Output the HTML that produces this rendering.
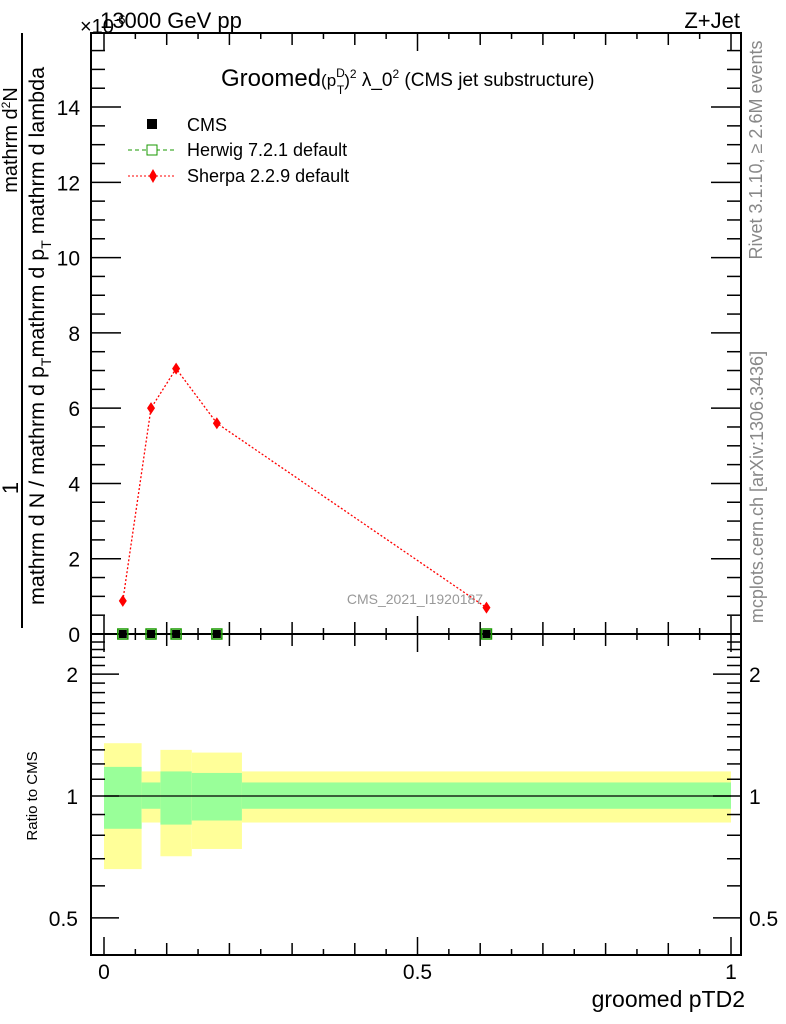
<!DOCTYPE html>
<html><head><meta charset="utf-8"><style>
html,body{margin:0;padding:0;background:#fff;}
svg{display:block;font-family:"Liberation Sans",sans-serif;}
</style></head><body>
<svg id="chart" width="786" height="1024" viewBox="0 0 786 1024" xmlns="http://www.w3.org/2000/svg">
<g id="bands"></g>
<g id="axes"></g>
<g id="marks"></g>
<text x="100" y="28" font-size="22">13000 GeV pp</text>
<text x="80" y="33" font-size="20">×10<tspan dy="-9" font-size="13">-6</tspan></text>
<text x="740" y="28" font-size="22" text-anchor="end">Z+Jet</text>
<text x="221" y="86" font-size="24">Groomed<tspan font-size="17">(p</tspan><tspan font-size="12" dy="-9">D</tspan><tspan font-size="12" dx="-8" dy="17">T</tspan><tspan font-size="17" dy="-8">)</tspan><tspan font-size="12" dy="-8">2</tspan><tspan font-size="19" dy="8"> λ_0</tspan><tspan font-size="12" dy="-8">2</tspan><tspan font-size="19" dy="8"> (CMS jet substructure)</tspan></text>
<g>
<rect x="147" y="119" width="10" height="10" fill="#000"/>
<text x="187" y="131" font-size="18">CMS</text>
<line x1="128" y1="150" x2="175" y2="150" stroke="#1a9a00" stroke-dasharray="4,3"/>
<rect x="147" y="145" width="10" height="10" fill="#fff" stroke="#1a9a00"/>
<text x="187" y="156" font-size="18">Herwig 7.2.1 default</text>
<line x1="128" y1="176" x2="175" y2="176" stroke="#f00" stroke-dasharray="2,2"/>
<path d="M153,169 L157,176 L153,183 L149,176Z" fill="#f00"/>
<text x="187" y="182" font-size="18">Sherpa 2.2.9 default</text>
</g>
<text x="415" y="604" font-size="14" fill="#999" text-anchor="middle">CMS_2021_I1920187</text>
<text transform="translate(762,150) rotate(-90)" font-size="18" fill="#888" text-anchor="middle">Rivet 3.1.10, ≥ 2.6M events</text>
<text transform="translate(763,487) rotate(-90)" font-size="18" fill="#888" text-anchor="middle">mcplots.cern.ch [arXiv:1306.3436]</text>
<g>
<line x1="22" y1="33" x2="22" y2="628" stroke="#000" stroke-width="2"/>
<text transform="translate(18,488) rotate(-90)" font-size="22" text-anchor="middle">1</text>
<text transform="translate(17,140) rotate(-90)" font-size="20" text-anchor="middle">mathrm d<tspan font-size="12" dy="-7">2</tspan><tspan dy="7">N</tspan></text>
<text transform="translate(44,336) rotate(-90)" font-size="21.5" text-anchor="middle">mathrm d N / mathrm d p<tspan font-size="14" dy="7">T</tspan><tspan dy="-7">mathrm d p</tspan><tspan font-size="14" dy="7">T</tspan><tspan dy="-7"> mathrm d lambda</tspan></text>
</g>
<text transform="translate(37,796) rotate(-90)" font-size="15" text-anchor="middle">Ratio to CMS</text>
<text x="745" y="1007" font-size="23" text-anchor="end">groomed pTD2</text>
</svg>
<script>
const binEdges=[0,0.06,0.09,0.14,0.22,1.0];
const binCenters=[0.03,0.075,0.115,0.18,0.61];
const cmsValues=[0.0,0.0,0.0,0.0,0.0];
const herwigValues=[0.0,0.0,0.0,0.0,0.0];
const sherpaValues=[0.88,6.0,7.05,5.6,0.7];
const bandYellowHi=[1.35,1.15,1.30,1.28,1.15];
const bandYellowLo=[0.66,0.86,0.71,0.74,0.86];
const bandGreenHi=[1.18,1.08,1.15,1.14,1.08];
const bandGreenLo=[0.83,0.93,0.85,0.87,0.93];
const yTickLabels=[0,2,4,6,8,10,12,14];
const xTickLabels=[0,0.5,1];
const ratioTickLabels=[0.5,1,2];

const NS="http://www.w3.org/2000/svg";
const L=91,R=741,T=33,B=634,RB=955;
const X=v=>104+627*v;
const Y=v=>634-37.64*v;
const RY=r=>796-405*Math.log10(r);
function mk(tag,attrs,parent){const e=document.createElementNS(NS,tag);for(const k in attrs)e.setAttribute(k,attrs[k]);parent.appendChild(e);return e;}
const axes=document.getElementById('axes'),marks=document.getElementById('marks'),bands=document.getElementById('bands');

for(let i=0;i<binCenters.length;i++){
  const x1=X(binEdges[i]),x2=X(binEdges[i+1]);
  const y=mk('rect',{x:x1,y:RY(bandYellowHi[i]),width:x2-x1,height:RY(bandYellowLo[i])-RY(bandYellowHi[i]),fill:'#ffff99'},bands);
  
  
  const g=mk('rect',{x:x1,y:RY(bandGreenHi[i]),width:x2-x1,height:RY(bandGreenLo[i])-RY(bandGreenHi[i]),fill:'#99ff99'},bands);
  
  
}
const one=mk('line',{x1:X(0),x2:X(1),y1:RY(1),y2:RY(1),stroke:'#000','stroke-width':1.2},bands);



const f1=mk('rect',{x:L,y:T,width:R-L,height:B-T,fill:'none',stroke:'#000','stroke-width':2},axes);


const f2=mk('rect',{x:L,y:B,width:R-L,height:RB-B,fill:'none',stroke:'#000','stroke-width':2},axes);



for(let k=0;k<=20;k++){
  const v=k*0.05,x=X(v),len=(k%2===0)?(k%10===0?18:12):6;
  mk('line',{x1:x,x2:x,y1:RB,y2:RB-len,stroke:'#000','stroke-width':1.5},axes);
  mk('line',{x1:x,x2:x,y1:B,y2:B-len,stroke:'#000','stroke-width':1.5},axes);
  mk('line',{x1:x,x2:x,y1:T,y2:T+len,stroke:'#000','stroke-width':1.5},axes);
  mk('line',{x1:x,x2:x,y1:B,y2:B+len,stroke:'#000','stroke-width':1.5},axes);
}
xTickLabels.forEach(v=>{const t=mk('text',{x:X(v),y:979,'font-size':21,'text-anchor':'middle'},axes);t.textContent=String(v);

});

for(let k=0;k<=31;k++){
  const v=k*0.5,y=Y(v);if(y<T)continue;const len=(k%4===0)?30:14;
  mk('line',{x1:L,x2:L+len,y1:y,y2:y,stroke:'#000','stroke-width':1.5},axes);
  mk('line',{x1:R,x2:R-len,y1:y,y2:y,stroke:'#000','stroke-width':1.5},axes);
}
yTickLabels.forEach(v=>{const t=mk('text',{x:80,y:Y(v)+8,'font-size':21,'text-anchor':'end'},axes);t.textContent=String(v);

});

const minor=[0.5,0.6,0.7,0.8,0.9,1,1.1,1.2,1.3,1.4,1.5,1.6,1.7,1.8,1.9,2,2.1,2.2,2.3,2.4];
minor.forEach(v=>{const y=RY(v);const len=ratioTickLabels.includes(v)?28:14;
  mk('line',{x1:L,x2:L+len,y1:y,y2:y,stroke:'#000','stroke-width':1.5},axes);
  mk('line',{x1:R,x2:R-len,y1:y,y2:y,stroke:'#000','stroke-width':1.5},axes);});
ratioTickLabels.forEach(v=>{
  const t=mk('text',{x:78,y:RY(v)+8,'font-size':21,'text-anchor':'end'},axes);t.textContent=String(v);
  
  
  const t2=mk('text',{x:749,y:RY(v)+8,'font-size':21},axes);t2.textContent=String(v);
  
  });

const pts=binCenters.map((c,i)=>X(c)+','+Y(sherpaValues[i])).join(' ');
const pl=mk('polyline',{points:pts,fill:'none',stroke:'#f00','stroke-width':1.3,'stroke-dasharray':'2,2'},marks);


binCenters.forEach((c,i)=>{
  const x=X(c),y=Y(sherpaValues[i]);
  const d=mk('path',{d:`M${x},${y-6}L${x+4},${y}L${x},${y+6}L${x-4},${y}Z`,fill:'#f00'},marks);
  
  
  const hx=mk('rect',{x:x-5,y:Y(herwigValues[i])-5,width:10,height:10,fill:'none',stroke:'#1a9a00','stroke-width':1.5},marks);
  
  
  const cm=mk('rect',{x:x-4,y:Y(cmsValues[i])-4,width:8,height:8,fill:'#000'},marks);
  
  
});
</script>
</body></html>
